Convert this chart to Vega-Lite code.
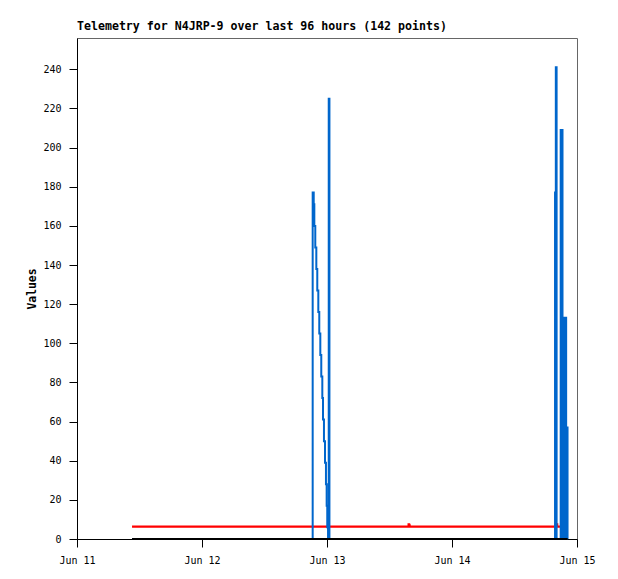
{
  "$schema": "https://vega.github.io/schema/vega-lite/v6.json",
  "autosize": {"type": "none"},
  "width": 500,
  "height": 501,
  "padding": {"left": 77, "top": 38, "right": 41, "bottom": 40},
  "background": "white",
  "title": {
    "text": "Telemetry for N4JRP-9 over last 96 hours (142 points)",
    "anchor": "start",
    "frame": "group",
    "offset": 5,
    "font": "DejaVu Sans Mono",
    "fontSize": 11.6,
    "fontWeight": "bold",
    "color": "black"
  },
  "config": {
    "view": {"stroke": "#666666", "strokeWidth": 1},
    "axis": {
      "grid": false,
      "domainColor": "black",
      "tickColor": "black",
      "tickSize": 8,
      "labelFont": "DejaVu Sans Mono",
      "labelFontSize": 10,
      "labelColor": "black",
      "labelPadding": 8,
      "titleFont": "DejaVu Sans Mono",
      "titleFontSize": 11.4,
      "titleFontWeight": "bold",
      "titleColor": "black"
    }
  },
  "data": {
    "values": [
      {"t": "2024-06-11T10:34:00", "series": "black", "v": 0},
      {"t": "2024-06-12T12:00:00", "series": "black", "v": 0},
      {"t": "2024-06-14T22:13:00", "series": "black", "v": 0},

      {"t": "2024-06-11T10:34:00", "series": "red", "v": 6.3},
      {"t": "2024-06-12T12:00:00", "series": "red", "v": 6.3},
      {"t": "2024-06-13T15:37:00", "series": "red", "v": 6.3},
      {"t": "2024-06-13T15:40:00", "series": "red", "v": 7.5},
      {"t": "2024-06-13T15:46:00", "series": "red", "v": 7.0},
      {"t": "2024-06-13T15:52:00", "series": "red", "v": 6.3},
      {"t": "2024-06-14T20:05:00", "series": "red", "v": 6.3},
      {"t": "2024-06-14T20:07:00", "series": "red", "v": 7.5},
      {"t": "2024-06-14T20:12:00", "series": "red", "v": 6.3},
      {"t": "2024-06-14T21:38:00", "series": "red", "v": 6.3},
      {"t": "2024-06-14T21:40:00", "series": "red", "v": 7.5},
      {"t": "2024-06-14T21:45:00", "series": "red", "v": 6.3},
      {"t": "2024-06-14T22:13:00", "series": "red", "v": 6.3},

      {"t": "2024-06-11T10:34:00", "series": "blue", "v": 0},
      {"t": "2024-06-12T12:00:00", "series": "blue", "v": 0},
      {"t": "2024-06-12T21:07:00", "series": "blue", "v": 0},
      {"t": "2024-06-12T21:15:00", "series": "blue", "v": 177},
      {"t": "2024-06-12T21:27:00", "series": "blue", "v": 171},
      {"t": "2024-06-12T21:34:00", "series": "blue", "v": 160},
      {"t": "2024-06-12T21:45:00", "series": "blue", "v": 149},
      {"t": "2024-06-12T21:57:00", "series": "blue", "v": 138},
      {"t": "2024-06-12T22:08:00", "series": "blue", "v": 127},
      {"t": "2024-06-12T22:20:00", "series": "blue", "v": 116},
      {"t": "2024-06-12T22:31:00", "series": "blue", "v": 105},
      {"t": "2024-06-12T22:43:00", "series": "blue", "v": 94},
      {"t": "2024-06-12T22:54:00", "series": "blue", "v": 83},
      {"t": "2024-06-12T23:06:00", "series": "blue", "v": 72},
      {"t": "2024-06-12T23:14:00", "series": "blue", "v": 61},
      {"t": "2024-06-12T23:25:00", "series": "blue", "v": 50},
      {"t": "2024-06-12T23:37:00", "series": "blue", "v": 39},
      {"t": "2024-06-12T23:48:00", "series": "blue", "v": 28},
      {"t": "2024-06-12T23:56:00", "series": "blue", "v": 17},
      {"t": "2024-06-13T00:03:00", "series": "blue", "v": 6},
      {"t": "2024-06-13T00:12:00", "series": "blue", "v": 0},
      {"t": "2024-06-13T00:20:00", "series": "blue", "v": 225},
      {"t": "2024-06-13T00:28:00", "series": "blue", "v": 0},
      {"t": "2024-06-14T12:00:00", "series": "blue", "v": 0},
      {"t": "2024-06-14T19:43:00", "series": "blue", "v": 0},
      {"t": "2024-06-14T19:47:00", "series": "blue", "v": 177},
      {"t": "2024-06-14T19:56:00", "series": "blue", "v": 241},
      {"t": "2024-06-14T20:05:00", "series": "blue", "v": 0},
      {"t": "2024-06-14T20:48:00", "series": "blue", "v": 0},
      {"t": "2024-06-14T20:52:00", "series": "blue", "v": 209},
      {"t": "2024-06-14T21:07:00", "series": "blue", "v": 209},
      {"t": "2024-06-14T21:13:00", "series": "blue", "v": 105},
      {"t": "2024-06-14T21:25:00", "series": "blue", "v": 113},
      {"t": "2024-06-14T21:48:00", "series": "blue", "v": 113},
      {"t": "2024-06-14T21:55:00", "series": "blue", "v": 57},
      {"t": "2024-06-14T22:11:00", "series": "blue", "v": 0},
      {"t": "2024-06-14T22:13:00", "series": "blue", "v": 0}
    ]
  },
  "encoding": {
    "x": {
      "field": "t",
      "type": "temporal",
      "scale": {"domain": [{"year": 2024, "month": 6, "date": 11}, {"year": 2024, "month": 6, "date": 15}]},
      "axis": {
        "title": null,
        "format": "%b %d",
        "values": [
          {"year": 2024, "month": 6, "date": 11},
          {"year": 2024, "month": 6, "date": 12},
          {"year": 2024, "month": 6, "date": 13},
          {"year": 2024, "month": 6, "date": 14},
          {"year": 2024, "month": 6, "date": 15}
        ],
        "labelFlush": false,
        "labelOverlap": false
      }
    },
    "y": {
      "field": "v",
      "type": "quantitative",
      "scale": {"domain": [0, 256], "nice": false, "zero": true},
      "axis": {
        "title": "Values",
        "values": [0, 20, 40, 60, 80, 100, 120, 140, 160, 180, 200, 220, 240],
        "titlePadding": 5
      }
    }
  },
  "layer": [
    {
      "transform": [{"filter": "datum.series === 'red'"}],
      "mark": {"type": "line", "color": "#ff0000", "strokeWidth": 2.2, "interpolate": "step-after"}
    },
    {
      "transform": [
        {"filter": "datum.series === 'blue'"},
        {"filter": {"field": "t", "gte": {"year": 2024, "month": 6, "date": 14}}}
      ],
      "mark": {"type": "area", "color": "#0066cc", "opacity": 1, "interpolate": "step-after"}
    },
    {
      "transform": [{"filter": "datum.series === 'blue'"}],
      "mark": {"type": "line", "color": "#0066cc", "strokeWidth": 2, "interpolate": "step-after"}
    },
    {
      "transform": [{"filter": "datum.series === 'black'"}],
      "mark": {"type": "line", "color": "#000000", "strokeWidth": 2.2}
    }
  ]
}
